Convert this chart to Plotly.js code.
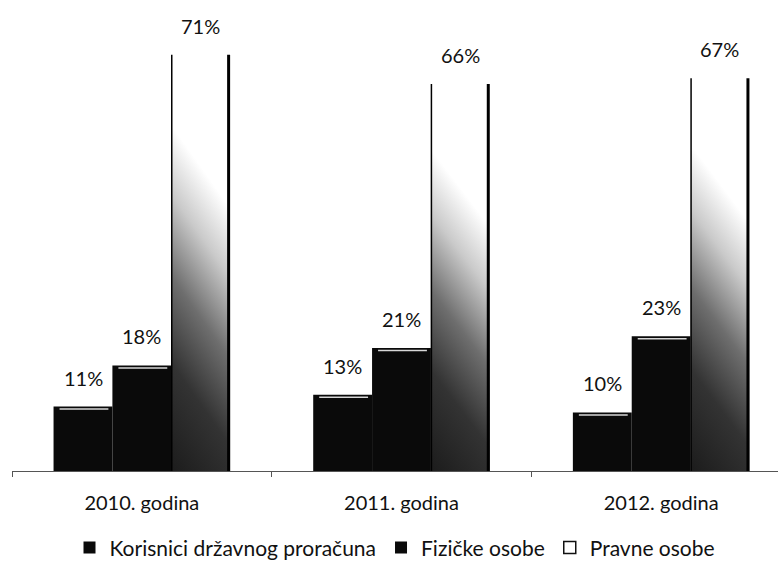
<!DOCTYPE html>
<html>
<head>
<meta charset="utf-8">
<script src="https://cdn.plot.ly/plotly-3.0.1.min.js"></script>
<style>html,body{margin:0;padding:0;background:#fff;}#chart{width:778px;height:570px;}</style>
</head>
<body>
<div id="chart"></div>
<script>
const categories = ['2010. godina', '2011. godina', '2012. godina'];
const seriesNames = ['Korisnici državnog proračuna', 'Fizičke osobe', 'Pravne osobe'];
const korisnici = [11, 13, 10];
const fizicke = [18, 21, 23];
const pravne = [71, 66, 67];
const seriesValues = [korisnici, fizicke, pravne];

const FONT = 'Lato, "Open Sans", sans-serif';
const colors = ['#0a0a0a', '#0a0a0a', '#8a8a8a'];

const traces = seriesValues.map((vals, i) => ({
  type: 'bar',
  name: seriesNames[i],
  x: categories,
  y: vals,
  marker: {color: colors[i], line: {width: 0}},
  hoverinfo: 'skip'
}));

const bargap = 0.32;
const catPx = 259.5;
const barPx = catPx * (1 - bargap) / 3;
const annotations = [];
seriesValues.forEach((vals, i) => {
  vals.forEach((v, j) => {
    annotations.push({
      x: categories[j], y: v, xref: 'x', yref: 'y',
      text: v + '%', showarrow: false,
      xanchor: 'center', yanchor: 'bottom',
      xshift: (i - 1) * barPx, yshift: 15,
      font: {family: FONT, size: 20, color: '#111'}
    });
  });
});

const layout = {
  width: 778, height: 570,
  margin: {l: 12, r: 0, t: 2, b: 99},
  paper_bgcolor: '#fff', plot_bgcolor: '#fff',
  barmode: 'group', bargap: bargap, bargroupgap: 0,
  showlegend: true,
  legend: {orientation: 'h', x: 0.5, xanchor: 'center', y: -0.164, yanchor: 'middle',
           font: {family: FONT, size: 21, color: '#111'}, itemwidth: 30, traceorder: 'normal'},
  xaxis: {type: 'category', range: [-0.5, 2.45], showline: true, linecolor: '#555', linewidth: 1,
          ticks: 'outside', tickson: 'boundaries', ticklen: 5, tickcolor: '#555',
          ticklabelstandoff: 14,
          tickfont: {family: FONT, size: 20, color: '#111'}, showgrid: false, zeroline: false, fixedrange: true},
  yaxis: {range: [0, 80], visible: false, showgrid: false, zeroline: false, fixedrange: true},
  annotations: annotations
};

Plotly.newPlot('chart', traces, layout, {displayModeBar: false, staticPlot: true}).then(() => {
  const svg = document.querySelector('#chart .main-svg');
  const NS = 'http://www.w3.org/2000/svg';
  let defs = svg.querySelector('defs');
  if (!defs) { defs = document.createElementNS(NS, 'defs'); svg.insertBefore(defs, svg.firstChild); }
  const grad = document.createElementNS(NS, 'linearGradient');
  grad.setAttribute('id', 'pravneGrad');
  grad.setAttribute('x1', '0.2'); grad.setAttribute('y1', '0');
  grad.setAttribute('x2', '0'); grad.setAttribute('y2', '1');
  [[0, '#ffffff'], [0.2, '#ffffff'], [0.36, '#cacaca'], [0.55, '#6e6e6e'], [0.75, '#333333'], [1, '#1c1c1c']].forEach(([o, c]) => {
    const s = document.createElementNS(NS, 'stop');
    s.setAttribute('offset', o); s.setAttribute('stop-color', c);
    grad.appendChild(s);
  });
  defs.appendChild(grad);
  const traceGroups = document.querySelectorAll('#chart .barlayer .trace');
  const g3 = traceGroups[2];
  if (g3) {
    g3.querySelectorAll('path').forEach(p => {
      p.style.fill = 'url(#pravneGrad)';
      const bb = p.getBBox();
      const mk = (x, w) => {
        const l = document.createElementNS(NS, 'line');
        l.setAttribute('x1', x); l.setAttribute('x2', x);
        l.setAttribute('y1', bb.y); l.setAttribute('y2', bb.y + bb.height);
        l.setAttribute('stroke', '#000'); l.setAttribute('stroke-width', w);
        p.parentNode.appendChild(l);
      };
      mk(bb.x + 0.5, 1.5);
      mk(bb.x + bb.width - 1.5, 3);
    });
  }
  [traceGroups[0], traceGroups[1]].forEach(g => {
    if (!g) return;
    g.querySelectorAll('path').forEach(p => {
      const bb = p.getBBox();
      const l = document.createElementNS(NS, 'line');
      l.setAttribute('x1', bb.x + 6); l.setAttribute('x2', bb.x + bb.width - 4);
      l.setAttribute('y1', bb.y + 2.5); l.setAttribute('y2', bb.y + 2.5);
      l.setAttribute('stroke', '#d8d8d8'); l.setAttribute('stroke-width', 1.5);
      p.parentNode.appendChild(l);
    });
  });
  const legendPts = document.querySelectorAll('#chart .legend .traces');
  if (legendPts[2]) {
    legendPts[2].querySelectorAll('.legendpoints path').forEach(p => {
      p.style.fill = '#fff'; p.style.stroke = '#111'; p.style.strokeWidth = '1.5px';
    });
  }
});
</script>
</body>
</html>
